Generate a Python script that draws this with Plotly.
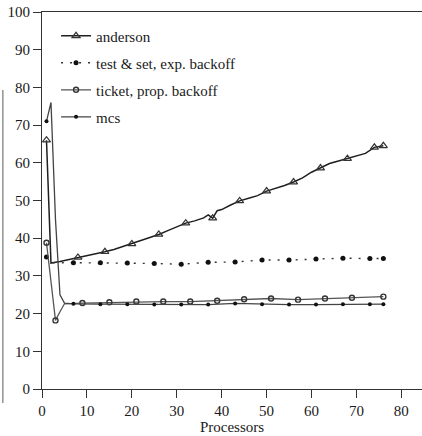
import plotly.graph_objects as go

# ---- data ----
anderson_x = [1, 2, 4, 6, 8, 10, 12, 14, 16, 18, 20, 22, 24, 26, 28, 30, 32, 34, 36, 37, 38, 39, 40,
              42, 44, 46, 48, 50, 52, 54, 56, 58, 60, 62, 64, 66, 68, 70, 72, 74, 76]
anderson_y = [66.0, 33.4, 33.8, 34.3, 34.9, 35.3, 35.8, 36.4, 37.0, 37.8, 38.5, 39.3, 40.3, 41.0,
              42.0, 43.0, 44.0, 44.6, 45.4, 46.2, 45.3, 47.3, 47.6, 48.8, 49.9, 50.6, 51.3, 52.5,
              53.2, 54.0, 54.9, 56.0, 57.5, 58.6, 59.8, 60.5, 61.1, 61.8, 62.5, 64.1, 64.5]
anderson_marked = [1, 8, 14, 20, 26, 32, 38, 44, 50, 56, 62, 68, 74, 76]

tas_x = [1, 2, 7, 13, 19, 25, 31, 37, 43, 49, 55, 61, 67, 73, 76]
tas_y = [35.0, 33.5, 33.5, 33.5, 33.4, 33.3, 33.1, 33.6, 33.7, 34.2, 34.2, 34.5, 34.7, 34.6, 34.6]
tas_marked = [1, 7, 13, 19, 25, 31, 37, 43, 49, 55, 61, 67, 73, 76]

ticket_x = [1, 2, 3, 4, 5, 9, 15, 21, 27, 33, 39, 45, 51, 57, 63, 69, 76]
ticket_y = [38.8, 28.0, 18.2, 20.5, 22.6, 22.8, 23.0, 23.2, 23.2, 23.2, 23.4, 23.8, 24.0, 23.7,
            24.0, 24.2, 24.5]
ticket_marked = [1, 3, 9, 15, 21, 27, 33, 39, 45, 51, 57, 63, 69, 76]

mcs_x = [1, 2, 3, 4, 5, 7, 13, 19, 25, 31, 37, 43, 49, 55, 61, 67, 73, 76]
mcs_y = [71.0, 76.0, 45.0, 25.0, 22.8, 22.6, 22.5, 22.5, 22.4, 22.4, 22.4, 22.7, 22.5, 22.4,
         22.4, 22.5, 22.5, 22.5]
mcs_marked = [1, 7, 13, 19, 25, 31, 37, 43, 49, 55, 61, 67, 73, 76]

names = ["anderson", "test & set, exp. backoff", "ticket, prop. backoff", "mcs"]
x_ticks = [0, 10, 20, 30, 40, 50, 60, 70, 80]
y_ticks = [0, 10, 20, 30, 40, 50, 60, 70, 80, 90, 100]

FONT = "Liberation Serif, 'DejaVu Serif', serif"
INK = "#1a1a1a"

series = [
    (names[0], anderson_x, anderson_y, anderson_marked,
     dict(dash="solid", width=1.5, color="#1f1f1f"),
     dict(symbol="triangle-up-open", size=7, color="#333", line=dict(width=1.2, color="#333"))),
    (names[1], tas_x, tas_y, tas_marked,
     dict(dash="2px,7px", width=1.4, color="#333"),
     dict(symbol="circle", size=5, color="#111")),
    (names[2], ticket_x, ticket_y, ticket_marked,
     dict(dash="solid", width=1.3, color="#555"),
     dict(symbol="circle-open", size=5, color="#333", line=dict(width=1.4, color="#333"))),
    (names[3], mcs_x, mcs_y, mcs_marked,
     dict(dash="solid", width=1.3, color="#444"),
     dict(symbol="circle", size=4, color="#111")),
]

fig = go.Figure()
for i, (name, xs, ys, marked, line, marker) in enumerate(series):
    lookup = dict(zip(xs, ys))
    fig.add_trace(go.Scatter(x=xs, y=ys, mode="lines", line=line, showlegend=False,
                             legendgroup=f"g{i}", hoverinfo="skip"))
    fig.add_trace(go.Scatter(x=marked, y=[lookup[m] for m in marked], mode="markers",
                             marker=marker, showlegend=False, legendgroup=f"g{i}"))
    fig.add_trace(go.Scatter(x=[None], y=[None], mode="lines+markers", name=name,
                             line=line, marker=marker, legendgroup=f"g{i}"))

fig.update_layout(
    width=422, height=436,
    margin=dict(l=42, r=0, t=12, b=47),
    paper_bgcolor="white", plot_bgcolor="white",
    font=dict(family=FONT, size=15, color=INK),
    showlegend=True,
    legend=dict(x=0.037, y=0.98, xanchor="left", yanchor="top",
                bgcolor="rgba(0,0,0,0)", font=dict(family=FONT, size=15, color=INK),
                traceorder="grouped", tracegroupgap=4.5),
    xaxis=dict(range=[0, 84.6], tickvals=x_ticks, ticks="outside", ticklen=8, tickwidth=1,
               tickcolor="#333", showline=True, linecolor="#333", linewidth=1.2, mirror=True,
               showgrid=False, zeroline=False,
               title=dict(text="Processors", font=dict(family=FONT, size=15), standoff=2)),
    yaxis=dict(range=[0, 100], tickvals=y_ticks, ticks="outside", ticklen=8, tickwidth=1,
               tickcolor="#333", showline=True, linecolor="#333", linewidth=1.2,
               showgrid=False, zeroline=False, ticklabeloverflow="allow"),
)

# scanning artifact: faint vertical rule at far left
fig.add_shape(type="line", xref="paper", yref="paper", x0=-0.103, x1=-0.103, y0=0.793, y1=-0.037,
              line=dict(color="#777", width=1.2))

fig.write_html("out.html",
               config={"displayModeBar": False},
               post_script="document.body.style.margin='0';document.body.style.overflow='hidden';")
